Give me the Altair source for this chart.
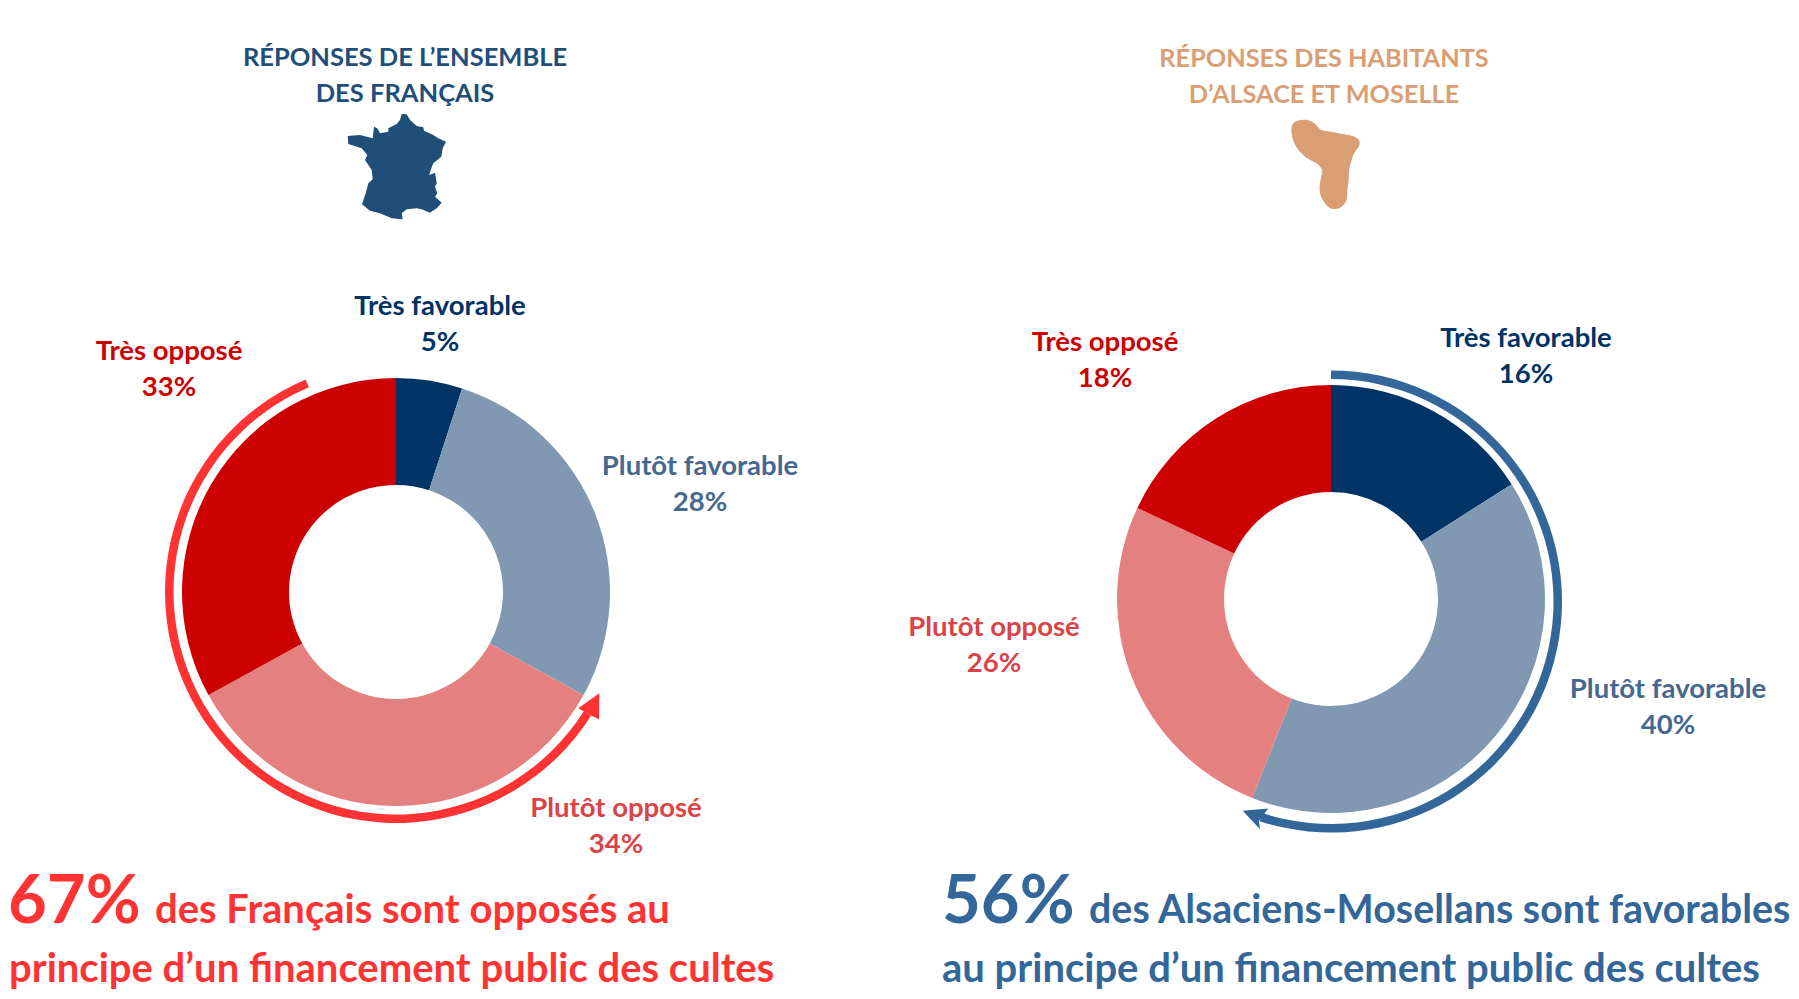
import math
import numpy as np
import pandas as pd
import altair as alt

OFF = 8  # page margin
FONT = "Lato"

categories = ["Très favorable", "Plutôt favorable", "Plutôt opposé", "Très opposé"]
france_values = [5, 28, 34, 33]
alsace_values = [16, 40, 26, 18]
slice_colors = ["#003366", "#8098B2", "#E48080", "#CC0000"]
label_colors = ["#003366", "#44688F", "#DA4347", "#CC0000"]
RED = "#FF3333"
BLUE = "#336699"
NAVY = "#1F4E79"
SAND = "#DA9E74"

# Sweep of the two arrows, in % of a full turn
france_arrow = (34.0, 93.6)
alsace_arrow = (0.0, 55.0)

# Outlines (crop px, 3x)
france_outline = [(545,282),(560,283),(570,300),(590,318),(610,322),(612,332),(640,345),(655,355),(678,365),
    (668,385),(664,410),(640,430),(632,450),(628,465),(645,458),(650,490),(645,500),(652,520),(645,530),
    (665,548),(650,565),(630,578),(605,568),(590,565),(560,568),(545,580),(548,598),(515,595),(480,580),
    (450,572),(426,553),(437,520),(445,490),(458,478),(455,450),(435,420),(442,405),(425,385),(385,372),
    (383,348),(420,345),(458,355),(462,320),(472,325),(480,340),(505,335),(505,325),(530,312),(540,300)]
alsace_outline = [(425,320),(432,305),(470,298),(497,312),(510,333),(540,336),(570,342),(624,352),(630,375),
    (612,395),(603,420),(595,450),(595,480),(590,510),(590,545),(568,566),(538,566),(518,540),(508,510),
    (514,475),(520,448),(502,428),(468,414),(436,378),(426,345)]


def to_path(pts, scale=1/3):
    return "M" + " L".join(f"{x*scale:.1f},{y*scale:.1f}" for x, y in pts) + " Z"


def smooth_path(pts, scale=1/3):
    n = len(pts)
    mids = [((pts[i][0] + pts[(i + 1) % n][0]) / 2, (pts[i][1] + pts[(i + 1) % n][1]) / 2) for i in range(n)]
    d = f"M{mids[-1][0]*scale:.1f},{mids[-1][1]*scale:.1f}"
    for i in range(n):
        d += f" Q{pts[i][0]*scale:.1f},{pts[i][1]*scale:.1f} {mids[i][0]*scale:.1f},{mids[i][1]*scale:.1f}"
    return d + " Z"


def shape(path, x, y, color, stroke=0):
    # a custom symbol of size 4 is drawn at 1:1 pixels
    return alt.Chart(pd.DataFrame({"k": [0]})).mark_point(
        shape=path, size=4, filled=True, fill=color, opacity=1, stroke=color, strokeWidth=stroke
    ).encode(x=alt.value(x - OFF), y=alt.value(y - OFF))


def text(s, x, y, size, color, align="center"):
    return alt.Chart(pd.DataFrame({"t": [s]})).mark_text(
        font=FONT, fontWeight="bold", fontSize=size, color=color, align=align, baseline="alphabetic"
    ).encode(x=alt.value(x - OFF), y=alt.value(y - OFF), text="t:N")


theta_scale = alt.Scale(domain=[0, 100], range=[0, 2 * math.pi])


def donut(values, cx, cy):
    v = np.array(values)
    df = pd.DataFrame({"cat": categories, "start": np.r_[0, v.cumsum()[:-1]], "end": v.cumsum()})
    return alt.Chart(df).mark_arc(radius=214, radius2=107).encode(
        theta=alt.Theta("start:Q", scale=theta_scale),
        theta2="end:Q",
        color=alt.Color("cat:N", scale=alt.Scale(domain=categories, range=slice_colors), legend=None),
        x=alt.value(cx - OFF), y=alt.value(cy - OFF),
    )


def ring(span, cx, cy, color):
    df = pd.DataFrame({"start": [span[0]], "end": [span[1]]})
    return alt.Chart(df).mark_arc(radius=231, radius2=222.5, fill=color).encode(
        theta=alt.Theta("start:Q", scale=theta_scale),
        theta2="end:Q",
        x=alt.value(cx - OFF), y=alt.value(cy - OFF),
    )


LBL = 27.5
def label(cat_i, pct, x, y):
    c = label_colors[cat_i]
    return [text(categories[cat_i], x, y, LBL, c), text(f"{pct}%", x, y + 36, LBL, c)]


layers = [
    donut(france_values, 396, 592),
    donut(alsace_values, 1331, 599),
    ring(france_arrow, 396, 592, RED),
    ring(alsace_arrow, 1331, 601.5, BLUE),
    shape("M9.3,-21.7 L-11.7,-6.7 L0,0 L9,4.3 Z", 590, 715, RED),
    shape("M-16.3,-10 L9.3,-12.3 L0,0 L1,8.6 Z", 1259, 820.7, BLUE),
    shape(to_path(france_outline), 220, 20, NAVY),
    shape(smooth_path(alsace_outline), 1150, 20, SAND, stroke=1),
    text("RÉPONSES DE L’ENSEMBLE", 405, 66, 25.5, NAVY),
    text("DES FRANÇAIS", 405, 102, 25.5, NAVY),
    text("RÉPONSES DES HABITANTS", 1324, 67, 25.3, SAND),
    text("D’ALSACE ET MOSELLE", 1324, 103, 25.3, SAND),
    text("67%", 8, 923, 67, RED, "left"),
    text("des Français sont opposés au", 155, 923, 40, RED, "left"),
    text("principe d’un financement public des cultes", 9, 982, 40, RED, "left"),
    text("56%", 942, 923, 67, BLUE, "left"),
    text("des Alsaciens-Mosellans sont favorables", 1089, 923, 39.4, BLUE, "left"),
    text("au principe d’un financement public des cultes", 942, 982, 40, BLUE, "left"),
]
layers += label(0, 5, 440, 315)
layers += label(1, 28, 700, 475)
layers += label(2, 34, 616, 817)
layers += label(3, 33, 169, 360)
layers += label(0, 16, 1526, 347)
layers += label(1, 40, 1668, 698)
layers += label(2, 26, 994, 636)
layers += label(3, 18, 1105, 351)

chart = alt.layer(*layers).properties(
    width=1783, height=983, padding=0, autosize=alt.AutoSizeParams(type="none"), background="white"
).resolve_scale(color="independent").configure_view(strokeWidth=0)

chart.save("out.html", embed_options={"renderer": "svg", "actions": False})
